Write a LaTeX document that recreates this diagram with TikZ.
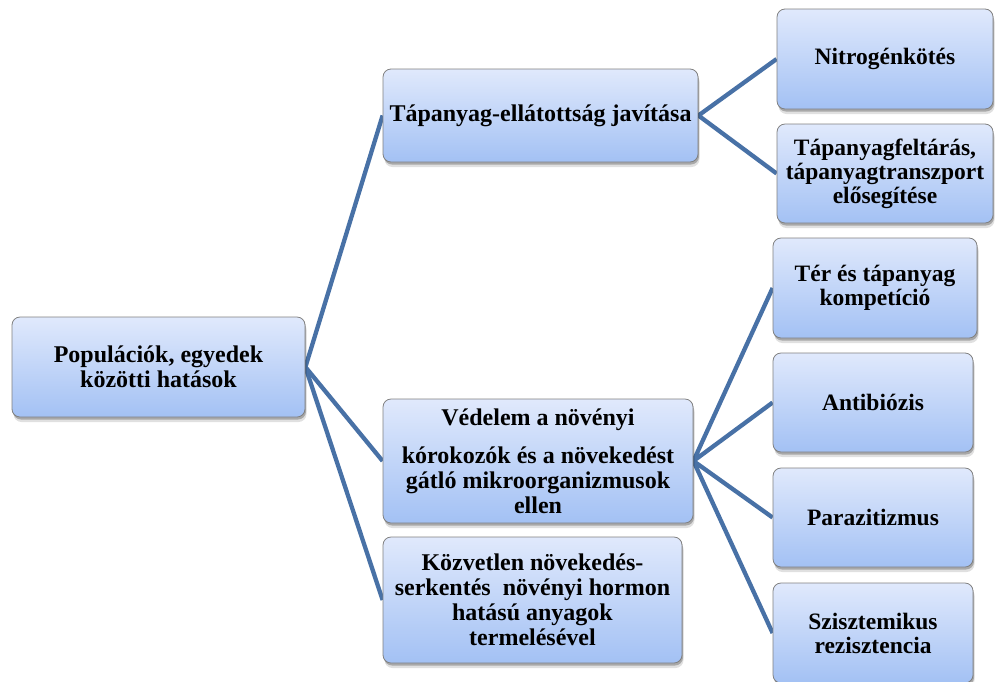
\documentclass[tikz,border=0pt]{standalone}
\usepackage{fontspec}
\setmainfont{Liberation Serif}
\usetikzlibrary{shadows,backgrounds}

\definecolor{boxtop}{RGB}{224,233,252}
\definecolor{boxmid}{RGB}{203,219,249}
\definecolor{boxbot}{RGB}{163,193,244}
\definecolor{boxedge}{RGB}{128,128,128}
\definecolor{linkblue}{RGB}{72,113,166}

\tikzset{
  box/.style={draw=boxedge, line width=0.8pt, rounded corners=8pt,
    top color=boxtop, middle color=boxmid, bottom color=boxbot,
    drop shadow={shadow xshift=1.5pt, shadow yshift=-5pt, opacity=0.12, fill=black},
    drop shadow={shadow xshift=1pt, shadow yshift=-2.5pt, opacity=0.25, fill=black},
    inner sep=0pt, align=center, text=black,
    font=\bfseries\fontsize{24}{25}\selectfont},
  leaf/.style={box, font=\bfseries\fontsize{23.5}{24}\selectfont},
  link/.style={draw=linkblue, line width=4.3pt, line join=round}
}

\begin{document}
\begin{tikzpicture}[x=1pt, y=-1pt]
\useasboundingbox (0,0) rectangle (995,681);
\clip (0,0) rectangle (995,681);

% root
\node[box, minimum width=293pt, minimum height=100pt] (root) at (158.5,367)
  {Populációk, egyedek\\közötti hatások};

% middle column
\node[box, minimum width=315pt, minimum height=93pt] (nutr) at (540.5,115.5)
  {Tápanyag-ellátottság javítása};
\node[box, minimum width=310pt, minimum height=124pt] (prot) at (538,461)
  {Védelem a növényi\\[13pt]kórokozók és a növekedést\\gátló mikroorganizmusok\\ellen};
\node[box, minimum width=299pt, minimum height=126pt] (horm) at (532.5,600)
  {Közvetlen növekedés-\\serkentés\ \ növényi hormon\\hatású anyagok\\termelésével};

% right column
\node[leaf, minimum width=216pt, minimum height=100pt] (nfix) at (885,59)
  {\raisebox{-2pt}{Nitrogénkötés}};
\node[leaf, minimum width=216pt, minimum height=99pt] (trans) at (885,173.5)
  {Tápanyagfeltárás,\\tápanyagtranszport\\elősegítése};
\node[leaf, minimum width=204pt, minimum height=100pt] (comp) at (875,288)
  {Tér és tápanyag\\kompetíció};
\node[leaf, minimum width=200pt, minimum height=99pt] (anti) at (873,402.5)
  {Antibiózis};
\node[leaf, minimum width=200pt, minimum height=99pt] (para) at (873,517.5)
  {Parazitizmus};
\node[leaf, minimum width=200pt, minimum height=100pt] (syst) at (873,633)
  {Szisztemikus\\rezisztencia};

% connectors
\begin{scope}[on background layer]
  \draw[link] (nutr.west) -- (root.east) -- (prot.west);
  \draw[link] (root.east) -- (horm.west);
  \draw[link] (nfix.west) -- (nutr.east) -- (trans.west);
  \draw[link] (comp.west) -- (prot.east) -- (anti.west);
  \draw[link] (para.west) -- (prot.east) -- (syst.west);
\end{scope}
\end{tikzpicture}
\end{document}
